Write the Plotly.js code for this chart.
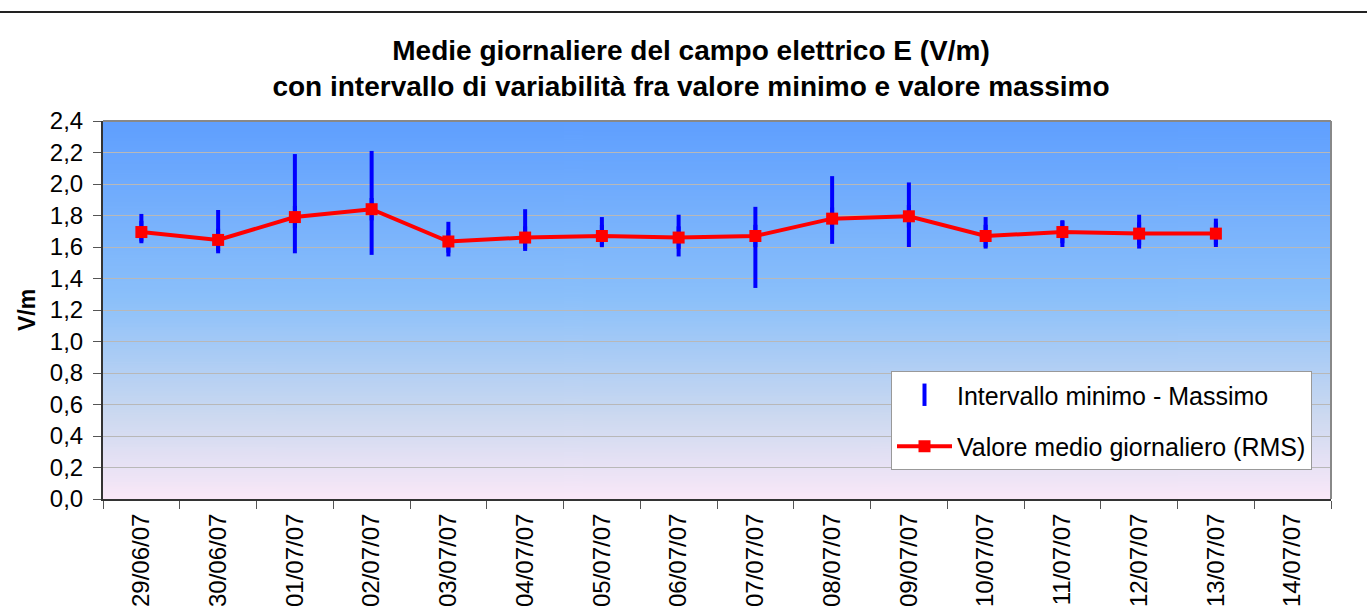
<!DOCTYPE html>
<html>
<head>
<meta charset="utf-8">
<script src="https://cdn.plot.ly/plotly-3.0.1.min.js"></script>
<style>
html,body{margin:0;padding:0;background:#fff;}
#chart{width:1367px;height:611px;}
</style>
</head>
<body>
<div id="chart"></div>
<script>
// ---- data ----
var dates = ["29/06/07","30/06/07","01/07/07","02/07/07","03/07/07","04/07/07","05/07/07","06/07/07","07/07/07","08/07/07","09/07/07","10/07/07","11/07/07","12/07/07","13/07/07","14/07/07"];
var meanRMS = [1.695,1.645,1.79,1.84,1.635,1.66,1.67,1.66,1.67,1.78,1.795,1.67,1.695,1.685,1.685,null];
var minVal  = [1.635,1.56,1.56,1.55,1.54,1.575,1.61,1.54,1.34,1.62,1.60,1.59,1.60,1.59,1.60,null];
var maxVal  = [1.81,1.835,2.19,2.21,1.76,1.84,1.79,1.805,1.855,2.05,2.01,1.79,1.77,1.805,1.78,null];
var yTicks  = [0,0.2,0.4,0.6,0.8,1.0,1.2,1.4,1.6,1.8,2.0,2.2,2.4];

// ---- gradient background (canvas -> image) ----
var cv = document.createElement('canvas');
cv.width = 4; cv.height = 400;
var ctx = cv.getContext('2d');
var g = ctx.createLinearGradient(0,0,0,400);
g.addColorStop(0,'#5f9fff');
g.addColorStop(0.47,'#8bc0fa');
g.addColorStop(0.78,'#ccd9f0');
g.addColorStop(1,'#fae8f8');
ctx.fillStyle = g; ctx.fillRect(0,0,4,400);
var bgURL = cv.toDataURL();

var errPlus = maxVal.map(function(v,i){ return v==null?null:v-meanRMS[i]; });
var errMinus = minVal.map(function(v,i){ return v==null?null:meanRMS[i]-v; });

var traceRange = {
  type:'scatter', mode:'markers', name:'Intervallo minimo - Massimo',
  x: dates, y: meanRMS,
  marker:{symbol:'line-ns-open', size:16, color:'#0000ff', line:{color:'#0000ff', width:4}},
  error_y:{type:'data', symmetric:false, array:errPlus, arrayminus:errMinus, color:'#0000ff', thickness:4, width:0},
  legendgroup:'a', hoverinfo:'skip'
};
var traceMean = {
  type:'scatter', mode:'lines+markers', name:'Valore medio giornaliero (RMS)',
  x: dates, y: meanRMS,
  line:{color:'#ff0000', width:4},
  marker:{symbol:'square', size:12, color:'#ff0000'},
  legendgroup:'b'
};

var L = 103, R = 1331, T = 121, B = 499;
var PW = R-L, PH = B-T;

var layout = {
  width:1367, height:611,
  margin:{l:L, r:1367-R, t:T, b:611-B, pad:0},
  paper_bgcolor:'#ffffff',
  plot_bgcolor:'rgba(0,0,0,0)',
  separators:',.',
  font:{family:'"Liberation Sans", Arial, sans-serif', color:'#000', size:24},
  title:{text:'<b>Medie giornaliere del campo elettrico E (V/m)</b><br><b>con intervallo di variabilità fra valore minimo e valore massimo</b>',
    font:{size:28, family:'"Liberation Sans", Arial, sans-serif', color:'#000'},
    x:0.5055, xanchor:'center', y:0.902, yanchor:'middle'},
  xaxis:{
    type:'category', categoryorder:'array', categoryarray:dates,
    range:[-0.5, dates.length-0.5],
    tickangle:-90, tickfont:{size:24}, ticklabelstandoff:3,
    ticks:'outside', ticklen:8, tickcolor:'#555', tickson:'boundaries',
    showgrid:false, showline:true, linecolor:'#333', linewidth:2,
    zeroline:false, fixedrange:true, automargin:false
  },
  yaxis:{
    range:[0,2.4], tickvals:yTicks, tickformat:'.1f',
    ticks:'outside', ticklen:8, tickcolor:'#555', ticklabelstandoff:5,
    showgrid:true, gridcolor:'#b8b8b8', gridwidth:1,
    showline:true, linecolor:'#333', linewidth:2,
    zeroline:false, tickfont:{size:24},
    title:{text:'<b>V/m</b>', font:{size:23}, standoff:8},
    fixedrange:true, automargin:false
  },
  images:[{source:bgURL, xref:'paper', yref:'paper', x:0, y:1, sizex:1, sizey:1,
    sizing:'stretch', xanchor:'left', yanchor:'top', layer:'below'}],
  shapes:[
    {type:'line', xref:'paper', yref:'paper', x0:0, x1:1, y0:1, y1:1, line:{color:'#888', width:2}},
    {type:'line', xref:'paper', yref:'paper', x0:1, x1:1, y0:0, y1:1, line:{color:'#888', width:2}},
    {type:'line', xref:'paper', yref:'paper', x0:-L/PW, x1:(1367-L)/PW, y0:(B-12)/PH, y1:(B-12)/PH, line:{color:'#222', width:2}}
  ],
  showlegend:true,
  legend:{
    x:(891-L)/PW, y:(B-371)/PH, xanchor:'left', yanchor:'top',
    bgcolor:'#ffffff', bordercolor:'#999', borderwidth:1,
    font:{size:25}, traceorder:'grouped', tracegroupgap:16, itemwidth:55
  },
  hovermode:false
};

Plotly.newPlot('chart',[traceRange, traceMean], layout, {displayModeBar:false, staticPlot:true});
</script>
</body>
</html>
